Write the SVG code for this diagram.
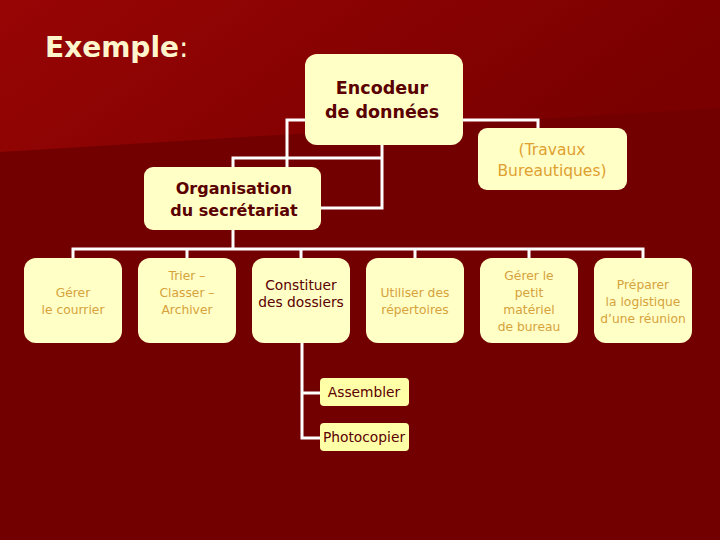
<svg xmlns="http://www.w3.org/2000/svg" width="720" height="540" viewBox="0 0 720 540">
<defs>
<linearGradient id="bgTop" x1="0" y1="0" x2="1" y2="0.3">
<stop offset="0" stop-color="#980505"/>
<stop offset="1" stop-color="#7a0000"/>
</linearGradient>
<style>
.box{fill:#ffffc6}
.sub{fill:#ffffa8}
.bold{font-family:"DejaVu Sans",Verdana,sans-serif;font-weight:bold;fill:#5a0000;text-anchor:middle}
.dark{font-family:"DejaVu Sans",Verdana,sans-serif;fill:#5a0000;text-anchor:middle;font-size:13.8px}
.light{font-family:"DejaVu Sans",Verdana,sans-serif;fill:#d6a23c;text-anchor:middle;font-size:12.3px}
.conn{stroke:#ffffff;stroke-width:3;fill:none}
</style>
</defs>
<rect x="0" y="0" width="720" height="540" fill="#720000"/>
<polygon points="0,0 720,0 720,108 0,152" fill="url(#bgTop)"/>
<text x="45" y="57" font-family="DejaVu Sans,Verdana,sans-serif" font-size="28" font-weight="bold" fill="#fff5cc">Exemple<tspan font-weight="normal">:</tspan></text>

<g id="connectors" class="conn">
<polyline points="287,167 287,120 538,120 538,128"/>
<polyline points="382,145 382,208 321,208"/>
<polyline points="233,167 233,158 382,158"/>
<line x1="233" y1="230" x2="233" y2="249"/>
<polyline points="73,258 73,249 643,249 643,258"/>
<line x1="187" y1="249" x2="187" y2="258"/>
<line x1="301" y1="249" x2="301" y2="258"/>
<line x1="415" y1="249" x2="415" y2="258"/>
<line x1="529" y1="249" x2="529" y2="258"/>
<polyline points="302,343 302,438 320,438"/>
<line x1="302" y1="393" x2="320" y2="393"/>
</g>

<g id="encodeur">
<rect class="box" x="305" y="54" width="158" height="91" rx="12"/>
<text class="bold" x="382" y="94" font-size="17.5">Encodeur</text>
<text class="bold" x="382" y="118" font-size="17.5">de données</text>
</g>
<g id="travaux">
<rect class="box" x="478" y="128" width="149" height="62" rx="9"/>
<text x="552" y="155" font-family="DejaVu Sans,Verdana,sans-serif" font-size="15.5" fill="#e0a030" text-anchor="middle">(Travaux</text>
<text x="552" y="176" font-family="DejaVu Sans,Verdana,sans-serif" font-size="15.5" fill="#e0a030" text-anchor="middle">Bureautiques)</text>
</g>
<g id="organisation">
<rect class="box" x="144" y="167" width="177" height="63" rx="9"/>
<text class="bold" x="234" y="194" font-size="16">Organisation</text>
<text class="bold" x="234" y="216" font-size="16">du secrétariat</text>
</g>

<g id="gerer-courrier">
<rect class="box" x="24" y="258" width="98" height="85" rx="12"/>
<text class="light" x="73" y="297">Gérer</text>
<text class="light" x="73" y="314">le courrier</text>
</g>
<g id="trier">
<rect class="box" x="138" y="258" width="98" height="85" rx="12"/>
<text class="light" x="187" y="280">Trier –</text>
<text class="light" x="187" y="297">Classer –</text>
<text class="light" x="187" y="314">Archiver</text>
</g>
<g id="constituer">
<rect class="box" x="252" y="258" width="98" height="85" rx="12"/>
<text class="dark" x="301" y="290">Constituer</text>
<text class="dark" x="301" y="307">des dossiers</text>
</g>
<g id="utiliser">
<rect class="box" x="366" y="258" width="98" height="85" rx="12"/>
<text class="light" x="415" y="297">Utiliser des</text>
<text class="light" x="415" y="314">répertoires</text>
</g>
<g id="gerer-materiel">
<rect class="box" x="480" y="258" width="98" height="85" rx="12"/>
<text class="light" x="529" y="280">Gérer le</text>
<text class="light" x="529" y="297">petit</text>
<text class="light" x="529" y="314">matériel</text>
<text class="light" x="529" y="331">de bureau</text>
</g>
<g id="preparer">
<rect class="box" x="594" y="258" width="98" height="85" rx="12"/>
<text class="light" x="643" y="289">Préparer</text>
<text class="light" x="643" y="306">la logistique</text>
<text class="light" x="643" y="323">d’une réunion</text>
</g>

<g id="assembler">
<rect class="sub" x="320" y="378" width="89" height="28" rx="4"/>
<text class="dark" x="364" y="397">Assembler</text>
</g>
<g id="photocopier">
<rect class="sub" x="320" y="423" width="89" height="28" rx="4"/>
<text class="dark" x="364" y="442">Photocopier</text>
</g>
</svg>
